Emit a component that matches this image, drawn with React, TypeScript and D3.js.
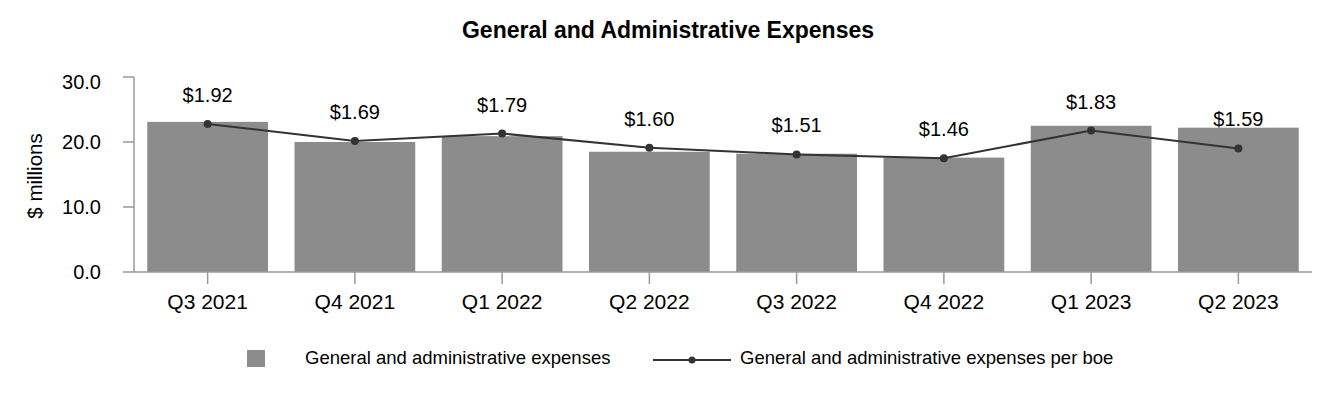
import React from "react";
import * as d3 from "d3";

const categories = ["Q3 2021", "Q4 2021", "Q1 2022", "Q2 2022", "Q3 2022", "Q4 2022", "Q1 2023", "Q2 2023"];
const expenses = [23.1, 20.0, 20.9, 18.5, 18.2, 17.6, 22.5, 22.2];
const perBoe = [1.92, 1.69, 1.79, 1.60, 1.51, 1.46, 1.83, 1.59];
const yTicks = [0, 10, 20, 30];

const W = 1332;
const H = 400;
const FONT = "'Liberation Sans', Arial, Helvetica, sans-serif";

export default function App() {
  const left = 134, right = 1312, top = 77, bottom = 272;
  const x = d3.scaleBand<string>().domain(categories).range([left, right]).paddingInner(0.18).paddingOuter(0.09);
  const y = d3.scaleLinear().domain([0, 30]).range([bottom, top]);
  const y2 = d3.scaleLinear().domain([-0.07, 2.55]).range([bottom, top]);
  const cx = (c: string) => (x(c) as number) + x.bandwidth() / 2;
  const line = d3.line<number>().x((_, i) => cx(categories[i])).y((v) => y2(v));
  const axisColor = "#999999";

  return (
    <svg width={W} height={H} style={{ position: "absolute", left: 0, top: 0, background: "#fff" }} fontFamily={FONT}>
      <text x={668} y={38} textAnchor="middle" fontSize={23} fontWeight="bold" fill="#000">
        General and Administrative Expenses
      </text>
      {categories.map((c, i) => (
        <rect key={c} x={x(c)} y={y(expenses[i])} width={x.bandwidth()} height={bottom - y(expenses[i])} fill="#8c8c8c" />
      ))}
      {/* y axis */}
      <line x1={left} x2={left} y1={top} y2={bottom} stroke={axisColor} strokeWidth={1.5} />
      {yTicks.map((t) => (
        <g key={t}>
          <line x1={left - 11} x2={left} y1={y(t)} y2={y(t)} stroke={axisColor} strokeWidth={1.5} />
          <text x={101} y={y(t) + (t === 30 ? 5 : 0)} dy="0.35em" textAnchor="end" fontSize={20} fill="#000">
            {t.toFixed(1)}
          </text>
        </g>
      ))}
      <text transform={`translate(42,176) rotate(-90)`} textAnchor="middle" fontSize={20.5} fill="#000">
        $ millions
      </text>
      {/* x axis */}
      <line x1={left} x2={right} y1={bottom} y2={bottom} stroke={axisColor} strokeWidth={1.5} />
      {categories.map((c) => (
        <g key={c}>
          <line x1={cx(c)} x2={cx(c)} y1={bottom} y2={bottom + 12} stroke={axisColor} strokeWidth={1.5} />
          <text x={cx(c)} y={309} textAnchor="middle" fontSize={21} fill="#000">
            {c}
          </text>
        </g>
      ))}
      {/* line series */}
      <path d={line(perBoe) || ""} fill="none" stroke="#333333" strokeWidth={2} />
      {perBoe.map((v, i) => (
        <g key={i}>
          <circle cx={cx(categories[i])} cy={y2(v)} r={4} fill="#333333" />
          <text x={cx(categories[i])} y={y2(v) - 22} textAnchor="middle" fontSize={20} fill="#000">
            {"$" + v.toFixed(2)}
          </text>
        </g>
      ))}
      {/* legend */}
      <rect x={247} y={350} width={18} height={17} fill="#8c8c8c" />
      <text x={305} y={358} dy="0.35em" fontSize={18.5} fill="#000">
        General and administrative expenses
      </text>
      <line x1={653} x2={731} y1={360} y2={360} stroke="#333333" strokeWidth={2} />
      <circle cx={692} cy={360} r={3.5} fill="#333333" />
      <text x={740} y={358} dy="0.35em" fontSize={18.5} fill="#000">
        General and administrative expenses per boe
      </text>
    </svg>
  );
}
